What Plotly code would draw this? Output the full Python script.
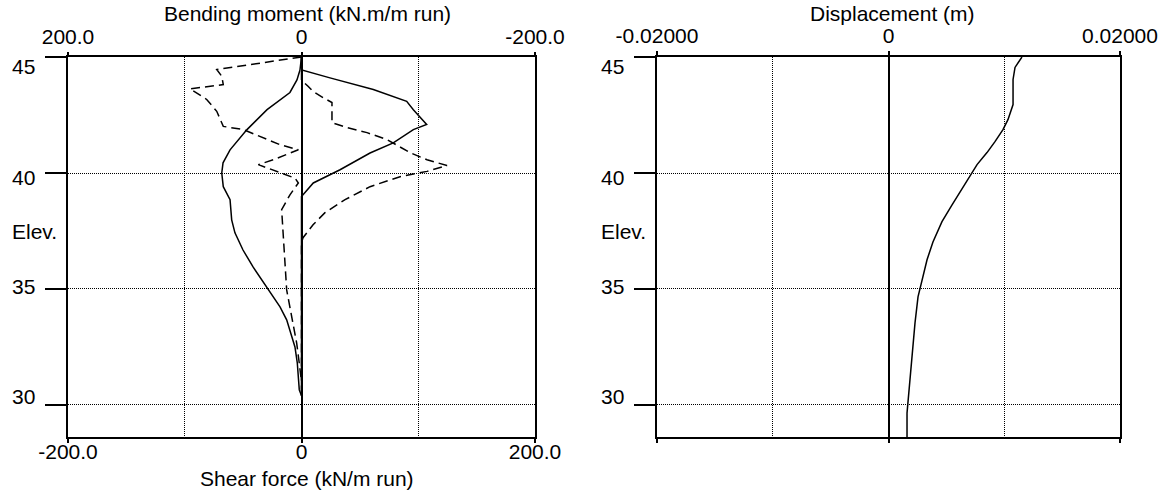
import plotly.graph_objects as go

# ---- Wall results: elevation (m) against bending moment, shear force, displacement ----
bm_elev = [45.0, 44.44, 44.01, 43.47, 42.73, 41.87, 41.0, 40.44, 40.0, 39.41, 38.85, 37.98,
           37.42, 36.68, 35.95, 35.09, 34.23, 33.67, 32.93, 32.5, 31.81, 30.65, 30.4]
bm_value = [0.0, 1.3, 3.9, 9.9, 29.5, 46.7, 61.2, 67.2, 68.3, 67.0, 61.2, 59.8,
            57.0, 50.1, 41.5, 29.8, 18.4, 12.7, 8.4, 5.6, 3.6, 1.9, 0.0]

sf_elev = [45.0, 44.44, 44.10, 43.6, 43.09, 42.73, 42.09, 41.87, 41.3, 40.86, 40.14,
           39.57, 38.99, 30.4]
sf_value = [0.0, 0.2, 24.4, 61.5, 90.1, 95.8, 107.2, 95.8, 78.6, 58.7, 33.0,
            10.1, 0.0, 0.0]

bm_max_elev = [45.0, 44.54, 44.46, 44.17, 43.81, 43.63, 43.17, 42.66, 42.01, 41.87, 41.22,
               41.0, 40.57, 40.36, 40.0, 39.78, 39.57, 39.06, 38.42, 37.12, 34.96, 33.81,
               32.66, 31.8, 31.0]
bm_max_value = [0.0, 63.8, 72.6, 68.3, 67.0, 95.5, 81.2, 72.6, 67.0, 49.8, 18.4,
                2.7, 24.2, 37.0, 18.4, 5.6, 2.7, 9.9, 17.0, 15.6, 12.7, 8.4,
                4.1, 1.9, 0.0]

sf_max_elev = [45.0, 44.0, 43.74, 43.52, 43.25, 43.04, 42.17, 41.96, 41.74, 41.44, 40.88,
               40.57, 40.32, 40.07, 39.84, 39.41, 38.85, 38.29, 37.77, 37.21, 37.0, 30.4]
sf_max_value = [0.0, 0.0, 5.6, 9.9, 18.4, 26.1, 26.1, 39.0, 56.1, 73.2, 92.9,
                107.5, 124.6, 107.5, 84.4, 58.7, 37.3, 20.1, 9.9, 1.3, 0.0, 0.0]

disp_elev = [45.0, 44.55, 44.03, 42.95, 42.30, 41.87, 41.35, 40.88, 40.36, 40.01, 39.41,
             38.63, 37.90, 37.03, 36.26, 35.40, 34.66, 33.54, 32.07, 30.65, 29.65, 28.62]
disp_value = [0.01153, 0.01093, 0.01076, 0.01076, 0.01032, 0.00989, 0.00920, 0.00851,
              0.00765, 0.00721, 0.00644, 0.00549, 0.00462, 0.00384, 0.00333, 0.00289,
              0.00255, 0.00229, 0.00203, 0.00177, 0.00160, 0.00160]

# ---- Axis ticks ----
elev_ticks = [30, 35, 40, 45]
elev_labels = ["30", "35", "40", "45"]
sf_ticks = [-200, 0, 200]
sf_labels = ["-200.0", "0", "200.0"]
bm_ticks = [200, 0, -200]
bm_labels = ["200.0", "0", "-200.0"]
disp_ticks = [-0.02, 0, 0.02]
disp_labels = ["-0.02000", "0", "0.02000"]

W, H = 1168, 497
FONT = dict(family="Arial, Liberation Sans, sans-serif", size=21, color="black")
DOT = "1px,1px"

fig = go.Figure()

solid = dict(color="black", width=1.5)
dashed = dict(color="black", width=1.5, dash="9px,5px")

fig.add_trace(go.Scatter(x=bm_value, y=bm_elev, xaxis="x2", yaxis="y", mode="lines",
                         line=solid, name="Bending moment"))
fig.add_trace(go.Scatter(x=sf_value, y=sf_elev, xaxis="x", yaxis="y", mode="lines",
                         line=solid, name="Shear force"))
fig.add_trace(go.Scatter(x=bm_max_value, y=bm_max_elev, xaxis="x2", yaxis="y", mode="lines",
                         line=dashed, name="Bending moment (max)"))
fig.add_trace(go.Scatter(x=sf_max_value, y=sf_max_elev, xaxis="x", yaxis="y", mode="lines",
                         line=dashed, name="Shear force (max)"))
fig.add_trace(go.Scatter(x=disp_value, y=disp_elev, xaxis="x3", yaxis="y2", mode="lines",
                         line=solid, name="Displacement"))

left_dom = [68 / W, 535 / W]
right_dom = [657 / W, 1120 / W]
y_dom = [1 - 437 / H, 1 - 57 / H]
y_range = [28.62, 45.0]

frame = dict(showline=True, linecolor="black", linewidth=2)
tick_style = dict(ticks="outside", tickwidth=2, tickcolor="black", automargin=False)

fig.update_layout(
    width=W, height=H,
    margin=dict(l=0, r=0, t=0, b=0, autoexpand=False),
    paper_bgcolor="white", plot_bgcolor="white",
    showlegend=False,
    font=FONT,
    xaxis=dict(domain=left_dom, range=[-200, 200], anchor="y", side="bottom",
               tickmode="array", tickvals=sf_ticks, ticktext=sf_labels,
               ticklen=4, ticklabelstandoff=-9,
               showgrid=False, zeroline=True, zerolinecolor="black", zerolinewidth=1.5,
               minor=dict(tickmode="array", tickvals=[-100, 100], showgrid=True,
                          griddash=DOT, gridcolor="black", gridwidth=1, ticks=""),
               mirror=True, tickfont=FONT, **frame, **tick_style),
    xaxis2=dict(overlaying="x", range=[200, -200], anchor="y", side="top",
                tickmode="array", tickvals=bm_ticks, ticktext=bm_labels,
                ticklen=4, showgrid=False, zeroline=False, showline=False,
                tickfont=FONT, **tick_style),
    yaxis=dict(domain=y_dom, range=y_range, anchor="x",
               tickmode="array", tickvals=elev_ticks, showticklabels=False,
               ticklen=21,
               showgrid=True, griddash=DOT, gridcolor="black", gridwidth=1,
               zeroline=False, mirror=True, **frame, **tick_style),
    xaxis3=dict(domain=right_dom, range=[-0.02, 0.02], anchor="y2", side="top",
                tickmode="array", tickvals=disp_ticks, ticktext=disp_labels,
                ticklen=4,
                showgrid=False, zeroline=True, zerolinecolor="black", zerolinewidth=1.5,
                minor=dict(tickmode="array", tickvals=[-0.01, 0.01], showgrid=True,
                           griddash=DOT, gridcolor="black", gridwidth=1, ticks=""),
                mirror="ticks", tickfont=FONT, **frame, **tick_style),
    yaxis2=dict(domain=y_dom, range=y_range, anchor="x3",
                tickmode="array", tickvals=elev_ticks, showticklabels=False,
                ticklen=21,
                showgrid=True, griddash=DOT, gridcolor="black", gridwidth=1,
                zeroline=False, mirror=True, **frame, **tick_style),
)

# Elevation labels are laid out on an even spacing beside each tick
label_shift = [8, 2, -4, -10]
annotations = []
for label_x in (37 / W, 626 / W):
    for val, txt, dy in zip(elev_ticks, elev_labels, label_shift):
        annotations.append(dict(x=label_x, xref="paper", y=val, yref="y",
                                text=txt, showarrow=False, xanchor="right",
                                yanchor="middle", yshift=dy, font=FONT))

for label_x in (10 / W, 599 / W):
    annotations.append(dict(x=label_x, xref="paper", y=1 - 232 / H, yref="paper",
                            text="Elev.", showarrow=False, xanchor="left",
                            yanchor="middle", font=FONT))

annotations += [
    dict(x=307 / W, xref="paper", y=1 - 14 / H, yref="paper",
         text="Bending moment (kN.m/m run)", showarrow=False,
         xanchor="center", yanchor="middle", font=FONT),
    dict(x=307 / W, xref="paper", y=1 - 478 / H, yref="paper",
         text="Shear force (kN/m run)", showarrow=False,
         xanchor="center", yanchor="middle", font=FONT),
    dict(x=892 / W, xref="paper", y=1 - 14 / H, yref="paper",
         text="Displacement (m)", showarrow=False,
         xanchor="center", yanchor="middle", font=FONT),
]
fig.update_layout(annotations=annotations)

fig.write_html("out.html")
